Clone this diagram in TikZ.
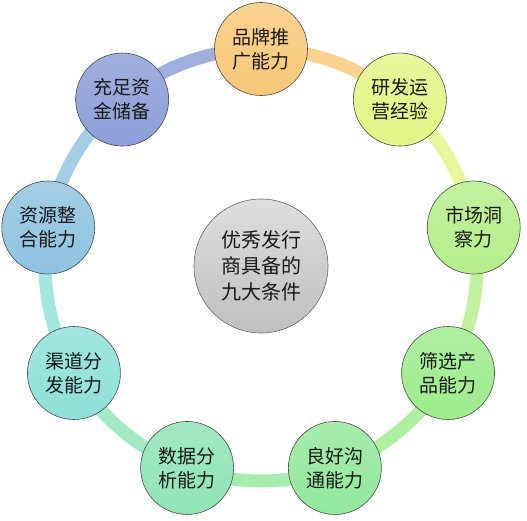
\documentclass[tikz,border=0pt]{standalone}
\usepackage{fontspec}
\newfontfamily\cjk{Noto Sans CJK SC}
\usetikzlibrary{calc,backgrounds}
\definecolor{c0}{HTML}{F8C878}
\definecolor{c1}{HTML}{E3F585}
\definecolor{c2}{HTML}{B5EE8A}
\definecolor{c3}{HTML}{9DEC8C}
\definecolor{c4}{HTML}{93E89C}
\definecolor{c5}{HTML}{8FE4B6}
\definecolor{c6}{HTML}{8EE0D9}
\definecolor{c7}{HTML}{8FC3E0}
\definecolor{c8}{HTML}{8C9ED8}
\definecolor{rimc}{HTML}{4A4A4A}
\tikzset{
  sat/.style={circle, minimum size=93pt, inner sep=0pt, draw=rimc, line width=0.6pt,
    top color=#1!82!white, bottom color=#1, align=center,
    font=\cjk\fontsize{19}{24}\selectfont, text=black!90},
  hub/.style={circle, minimum size=134pt, inner sep=0pt, draw=black!60, line width=0.6pt,
    top color=black!13, bottom color=black!25, align=center,
    font=\cjk\fontsize{20}{26}\selectfont, text=black!90},
  band/.style={line width=13pt, draw=#1!82!white}
}
\begin{document}
\begin{tikzpicture}[x=1pt,y=1pt]
\useasboundingbox (0,0) rectangle (527,520);
\coordinate (O) at (261,255);
\node[hub] (hub) at (261,254) {优秀发行\\商具备的\\九大条件};
\node[sat=c0] (n0) at ($(O)+(90:216)$) {品牌推\\广能力};
\node[sat=c1] (n1) at ($(O)+(50:216)$) {研发运\\营经验};
\node[sat=c2] (n2) at ($(O)+(10:216)$) {市场洞\\察力};
\node[sat=c3] (n3) at ($(O)+(-30:216)$) {筛选产\\品能力};
\node[sat=c4] (n4) at ($(O)+(-70:216)$) {良好沟\\通能力};
\node[sat=c5] (n5) at ($(O)+(-110:216)$) {数据分\\析能力};
\node[sat=c6] (n6) at ($(O)+(-150:216)$) {渠道分\\发能力};
\node[sat=c7] (n7) at ($(O)+(-190:216)$) {资源整\\合能力};
\node[sat=c8] (n8) at ($(O)+(-230:216)$) {充足资\\金储备};
\begin{scope}[on background layer]
\draw[band=c0] (n0.center) arc[start angle=90, end angle=50, radius=216];
\draw[band=c1] (n1.center) arc[start angle=50, end angle=10, radius=216];
\draw[band=c2] (n2.center) arc[start angle=10, end angle=-30, radius=216];
\draw[band=c3] (n3.center) arc[start angle=-30, end angle=-70, radius=216];
\draw[band=c4] (n4.center) arc[start angle=-70, end angle=-110, radius=216];
\draw[band=c5] (n5.center) arc[start angle=-110, end angle=-150, radius=216];
\draw[band=c6] (n6.center) arc[start angle=-150, end angle=-190, radius=216];
\draw[band=c7] (n7.center) arc[start angle=-190, end angle=-230, radius=216];
\draw[band=c8] (n8.center) arc[start angle=-230, end angle=-270, radius=216];
\end{scope}
\end{tikzpicture}
\end{document}
